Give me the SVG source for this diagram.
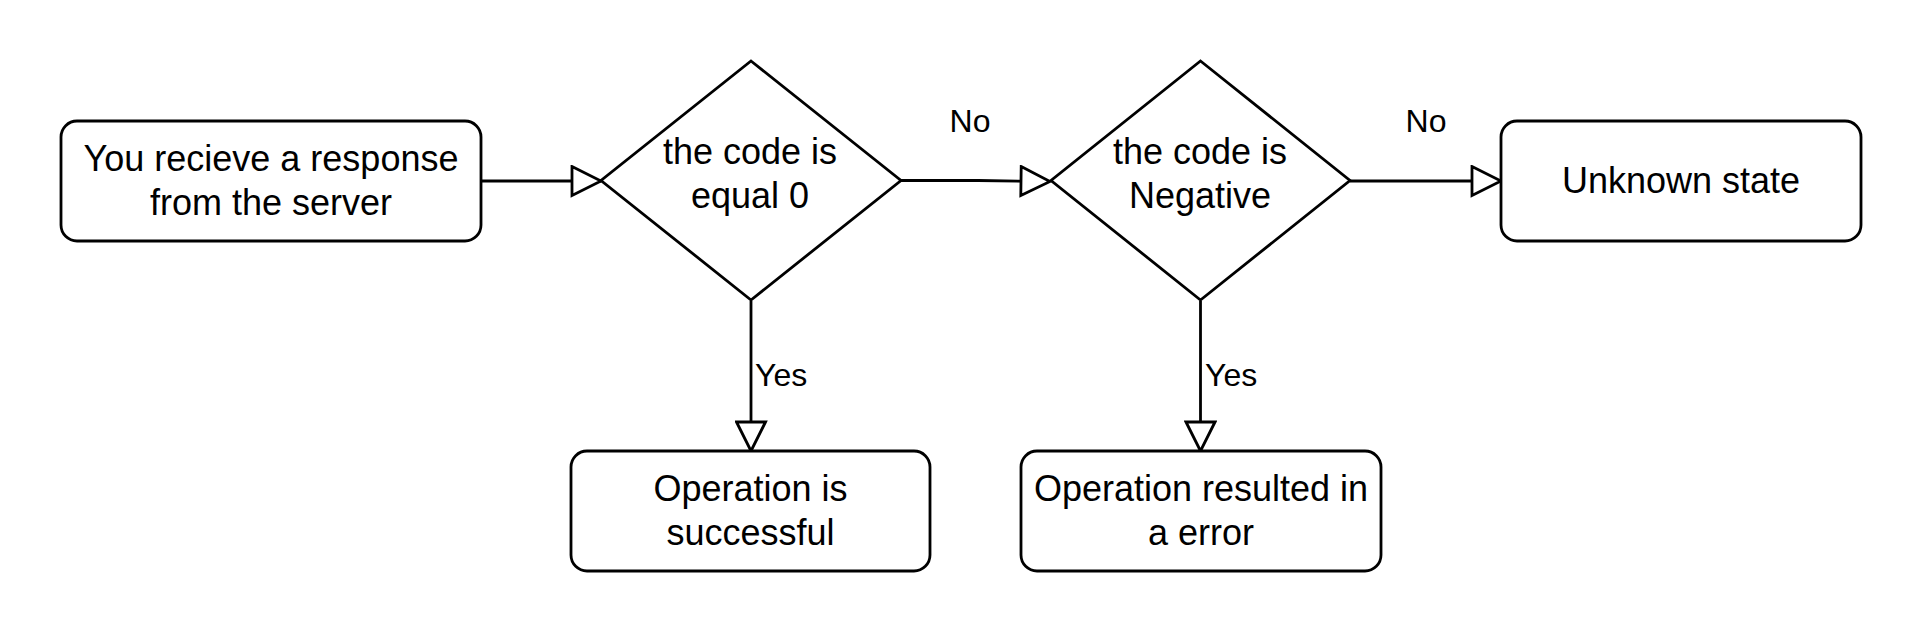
<svg xmlns="http://www.w3.org/2000/svg" width="1923" height="633" viewBox="0 0 1923 633">
<style>
.node{fill:#ffffff;stroke:#000000;stroke-width:2.8}
.edge{fill:none;stroke:#000000;stroke-width:2.8}
.t{font-family:"Liberation Sans",Arial,sans-serif;font-size:36px;fill:#000000;text-anchor:middle}
.lbl{font-family:"Liberation Sans",Arial,sans-serif;font-size:32px;fill:#000000}
</style>
<defs>
<marker id="arr" viewBox="0 0 33 33" refX="31" refY="16.5" markerWidth="33" markerHeight="33" markerUnits="userSpaceOnUse" orient="auto">
<path d="M2,2 L31,16.5 L2,31 Z" fill="#ffffff" stroke="#000000" stroke-width="2.8" stroke-linejoin="miter"/>
</marker>
</defs>
<rect width="1923" height="633" fill="#ffffff"/>
<g id="connectors">
<path class="edge" d="M481,181 L601,181" marker-end="url(#arr)"/>
<path class="edge" d="M901,180.5 L978,180.5 L1050,181.5" marker-end="url(#arr)"/>
<path class="edge" d="M1350,181 L1501,181" marker-end="url(#arr)"/>
<path class="edge" d="M751,301 L751,451" marker-end="url(#arr)"/>
<path class="edge" d="M1200.5,301 L1200.5,451" marker-end="url(#arr)"/>
<text class="lbl" x="970" y="132" text-anchor="middle">No</text>
<text class="lbl" x="1426" y="132" text-anchor="middle">No</text>
<text class="lbl" x="755" y="386">Yes</text>
<text class="lbl" x="1205" y="386">Yes</text>
</g>
<g id="start">
<rect class="node" x="61" y="121" width="420" height="120" rx="16" ry="16"/>
<text class="t" x="271" y="171">You recieve a response</text>
<text class="t" x="271" y="215">from the server</text>
</g>
<g id="decision1">
<polygon class="node" points="751,61 901,180.5 751,300 601,180.5"/>
<text class="t" x="750" y="164">the code is</text>
<text class="t" x="750" y="208">equal 0</text>
</g>
<g id="decision2">
<polygon class="node" points="1200.5,61 1350,180.5 1200.5,300 1051,180.5"/>
<text class="t" x="1200" y="164">the code is</text>
<text class="t" x="1200" y="208">Negative</text>
</g>
<g id="unknown">
<rect class="node" x="1501" y="121" width="360" height="120" rx="16" ry="16"/>
<text class="t" x="1681" y="193">Unknown state</text>
</g>
<g id="success">
<rect class="node" x="571" y="451" width="359" height="120" rx="16" ry="16"/>
<text class="t" x="750.5" y="501">Operation is</text>
<text class="t" x="750.5" y="545">successful</text>
</g>
<g id="error">
<rect class="node" x="1021" y="451" width="360" height="120" rx="16" ry="16"/>
<text class="t" x="1201" y="501">Operation resulted in</text>
<text class="t" x="1201" y="545">a error</text>
</g>
</svg>
